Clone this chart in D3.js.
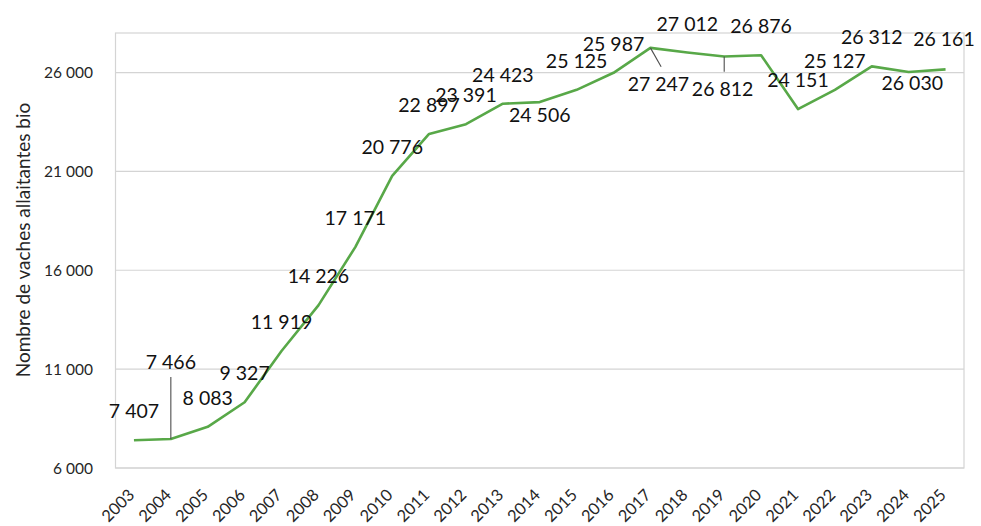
<!DOCTYPE html>
<html>
<head>
<meta charset="utf-8">
<script src="https://cdn.jsdelivr.net/npm/d3@7"></script>
<style>
  html, body { margin: 0; padding: 0; background: #ffffff; }
  svg { display: block; }
</style>
</head>
<body>
<svg id="chart" width="981" height="526"></svg>
<script>
// ---- data ----
const years = ["2003","2004","2005","2006","2007","2008","2009","2010","2011","2012","2013","2014",
               "2015","2016","2017","2018","2019","2020","2021","2022","2023","2024","2025"];
const vaches = [7407, 7466, 8083, 9327, 11919, 14226, 17171, 20776, 22897, 23391, 24423, 24506,
                25125, 25987, 27247, 27012, 26812, 26876, 24151, 25127, 26312, 26030, 26161];
const yTicks = [6000, 11000, 16000, 21000, 26000];
const yDomain = [6000, 28000];
const yTitle = "Nombre de vaches allaitantes bio";

// ---- label layout (pixel offsets of label centre relative to its point) ----
const labelDefault = [0, -29];
const labelExceptions = {
  1:  { off: [0, -77],    leader: [0, -62] },
  11: { off: [0, 13] },
  14: { off: [8, 36.6],   leader: [10.7, 18.8] },
  16: { off: [-1.6, 32.7], leader: [0, 15.2] },
  21: { off: [3.6, 10.6] },
  22: { off: [-1.6, -30.6] }
};

const fr = d3.formatLocale({ decimal: ",", thousands: "\u202F", grouping: [3] }).format(",d");
const fmt = v => fr(v).replace(/\u202F/g, " ");

const svg = d3.select("#chart");
const plot = { left: 115.5, right: 964, top: 33, bottom: 468 };

const x = d3.scalePoint().domain(years).range([plot.left, plot.right]).padding(0.5);
const y = d3.scaleLinear().domain(yDomain).range([plot.bottom, plot.top]);

const FONT = "Lato, 'Open Sans', sans-serif";

// plot frame
svg.append("rect")
  .attr("x", plot.left).attr("y", plot.top)
  .attr("width", plot.right - plot.left).attr("height", plot.bottom - plot.top)
  .attr("fill", "none").attr("stroke", "#d4d4d4").attr("stroke-width", 1.2);

// gridlines
svg.append("g").selectAll("line").data(yTicks).join("line")
  .attr("x1", plot.left).attr("x2", plot.right)
  .attr("y1", d => y(d)).attr("y2", d => y(d))
  .attr("stroke", "#d4d4d4").attr("stroke-width", 1.2);

// y tick labels
svg.append("g").selectAll("text").data(yTicks).join("text")
  .attr("x", 93).attr("y", d => y(d) + 5.6)
  .attr("text-anchor", "end")
  .attr("font-family", FONT).attr("font-size", 15.5)
  .attr("fill", "#262626")
  .text(d => fmt(d));

// y title
svg.append("text")
  .attr("transform", `translate(30, 240) rotate(-90)`)
  .attr("text-anchor", "middle")
  .attr("font-family", FONT).attr("font-size", 19)
  .attr("fill", "#262626")
  .text(yTitle);

// x tick labels
svg.append("g").selectAll("text").data(years).join("text")
  .attr("transform", d => `translate(${x(d) + 1.5}, ${plot.bottom + 28}) rotate(-45)`)
  .attr("text-anchor", "end")
  .attr("font-family", FONT).attr("font-size", 16.4)
  .attr("fill", "#262626")
  .text(d => d);

// line
const pts = years.map((yr, i) => ({ yr, v: vaches[i], i }));
svg.append("path")
  .datum(pts)
  .attr("fill", "none")
  .attr("stroke", "#58a848")
  .attr("stroke-width", 2.6)
  .attr("stroke-linejoin", "round")
  .attr("d", d3.line().x(d => x(d.yr)).y(d => y(d.v)));

// leader lines
const leaderPts = pts.filter(d => labelExceptions[d.i] && labelExceptions[d.i].leader);
svg.append("g").selectAll("line").data(leaderPts).join("line")
  .attr("x1", d => x(d.yr)).attr("y1", d => y(d.v))
  .attr("x2", d => x(d.yr) + labelExceptions[d.i].leader[0])
  .attr("y2", d => y(d.v) + labelExceptions[d.i].leader[1])
  .attr("stroke", "#4d4d4d").attr("stroke-width", 1.1);

// data labels
const LBL = 19.5, capHalf = 0.717 * LBL / 2;
svg.append("g").selectAll("text").data(pts).join("text")
  .attr("x", d => x(d.yr) + (labelExceptions[d.i] ? labelExceptions[d.i].off[0] : labelDefault[0]))
  .attr("y", d => y(d.v) + (labelExceptions[d.i] ? labelExceptions[d.i].off[1] : labelDefault[1]) + capHalf)
  .attr("text-anchor", "middle")
  .attr("font-family", FONT).attr("font-size", LBL)
  .attr("fill", "#111")
  .text(d => fmt(d.v));
</script>
</body>
</html>
